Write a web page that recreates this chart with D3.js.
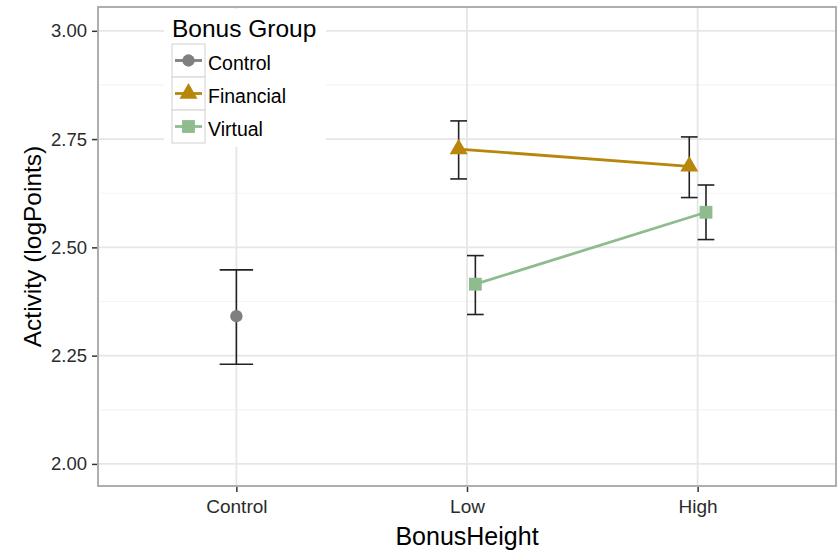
<!DOCTYPE html>
<html>
<head>
<meta charset="utf-8">
<script src="https://cdn.jsdelivr.net/npm/d3@7"></script>
<style>
  html, body { margin: 0; padding: 0; background: #fff; }
  svg { display: block; font-family: "Liberation Sans", Arial, sans-serif; }
</style>
</head>
<body>
<svg id="chart" width="840" height="551"></svg>
<script>
// Bonus height on the x axis, one series per bonus group
const categories = ["Control", "Low", "High"];
const groups = ["Control", "Financial", "Virtual"];
const groupColors = ["#7f7f7f", "#b8860b", "#8fbc8f"];

// Means and error-bar limits (log points)
const controlX    = ["Control"];
const controlMean = [2.341];
const controlLow  = [2.230];
const controlHigh = [2.448];

const financialX    = ["Low", "High"];
const financialMean = [2.727, 2.687];
const financialLow  = [2.658, 2.615];
const financialHigh = [2.792, 2.755];

const virtualX    = ["Low", "High"];
const virtualMean = [2.415, 2.581];
const virtualLow  = [2.345, 2.518];
const virtualHigh = [2.481, 2.644];

const yTicks = [2.00, 2.25, 2.50, 2.75, 3.00];
const yMinor = [2.125, 2.375, 2.625, 2.875];

const svg = d3.select("#chart");
const panel = { left: 98, right: 836, top: 7, bottom: 486 };

const x = d3.scalePoint().domain(categories)
  .range([panel.left, panel.right]).padding(0.6);
const y = d3.scaleLinear().domain([1.949, 3.055])
  .range([panel.bottom, panel.top]);

const step = x.step();
const dodgeWidth = 0.145;           // shared by the groups at one category

function build(name, xs, mean, lo, hi, nGroups, idx) {
  const off = nGroups > 1 ? (idx - (nGroups - 1) / 2) * dodgeWidth / nGroups : 0;
  return xs.map((c, i) => ({
    group: name, cat: c, mean: mean[i], lo: lo[i], hi: hi[i],
    cx: x(c) + off * step,
    capHalf: dodgeWidth / nGroups / 2 * step
  }));
}
const series = [
  build("Control", controlX, controlMean, controlLow, controlHigh, 1, 0),
  build("Financial", financialX, financialMean, financialLow, financialHigh, 2, 0),
  build("Virtual", virtualX, virtualMean, virtualLow, virtualHigh, 2, 1)
];
const color = d3.scaleOrdinal().domain(groups).range(groupColors);

// Panel background and grid
svg.append("rect").attr("x", panel.left).attr("y", panel.top)
  .attr("width", panel.right - panel.left).attr("height", panel.bottom - panel.top)
  .attr("fill", "#fff");

const grid = svg.append("g");
grid.selectAll("line.minor").data(yMinor).join("line")
  .attr("x1", panel.left).attr("x2", panel.right)
  .attr("y1", d => y(d)).attr("y2", d => y(d))
  .attr("stroke", "#f4f4f4").attr("stroke-width", 1.2);
grid.selectAll("line.major").data(yTicks).join("line")
  .attr("x1", panel.left).attr("x2", panel.right)
  .attr("y1", d => y(d)).attr("y2", d => y(d))
  .attr("stroke", "#e6e6e6").attr("stroke-width", 1.8);
grid.selectAll("line.vert").data(categories).join("line")
  .attr("x1", d => x(d)).attr("x2", d => x(d))
  .attr("y1", panel.top).attr("y2", panel.bottom)
  .attr("stroke", "#e6e6e6").attr("stroke-width", 1.8);

// Error bars
const eb = svg.append("g").attr("stroke", "#222").attr("stroke-width", 1.6).attr("fill", "none");
series.flat().forEach(d => {
  eb.append("line").attr("x1", d.cx).attr("x2", d.cx).attr("y1", y(d.lo)).attr("y2", y(d.hi));
  eb.append("line").attr("x1", d.cx - d.capHalf).attr("x2", d.cx + d.capHalf).attr("y1", y(d.lo)).attr("y2", y(d.lo));
  eb.append("line").attr("x1", d.cx - d.capHalf).attr("x2", d.cx + d.capHalf).attr("y1", y(d.hi)).attr("y2", y(d.hi));
});

// Lines connecting group means
const line = d3.line().x(d => d.cx).y(d => y(d.mean));
series.forEach(s => {
  if (s.length > 1) {
    svg.append("path").datum(s).attr("d", line)
      .attr("fill", "none").attr("stroke", color(s[0].group)).attr("stroke-width", 2.8);
  }
});

// Point symbols per group
const shapes = { Control: d3.symbolCircle, Financial: d3.symbolTriangle, Virtual: d3.symbolSquare };
const sizes = { Control: 120, Financial: 140, Virtual: 165 };
series.forEach(s => {
  svg.append("g").selectAll("path").data(s).join("path")
    .attr("transform", d => `translate(${d.cx},${y(d.mean)})`)
    .attr("d", d => d3.symbol().type(shapes[d.group]).size(sizes[d.group])())
    .attr("fill", d => color(d.group));
});

// Panel border
svg.append("rect").attr("x", panel.left).attr("y", panel.top)
  .attr("width", panel.right - panel.left).attr("height", panel.bottom - panel.top)
  .attr("fill", "none").attr("stroke", "#a6a6a6").attr("stroke-width", 1.8);

// Axes
const yAxis = svg.append("g").attr("transform", `translate(${panel.left - 1},0)`)
  .call(d3.axisLeft(y).tickValues(yTicks).tickFormat(d3.format(".2f")).tickSize(5).tickPadding(5));
const xAxis = svg.append("g").attr("transform", `translate(0,${panel.bottom + 1})`)
  .call(d3.axisBottom(x).tickSize(5).tickPadding(8));
[yAxis, xAxis].forEach(a => {
  a.select(".domain").remove();
  a.selectAll(".tick line").attr("stroke", "#333").attr("stroke-width", 1.5);
  a.selectAll(".tick text").attr("fill", "#2b2b2b").attr("font-family", "Liberation Sans, Arial, sans-serif");
});
yAxis.selectAll(".tick text").attr("font-size", 18.5);
xAxis.selectAll(".tick text").attr("font-size", 19);

// Axis titles
svg.append("text").attr("x", (panel.left + panel.right) / 2).attr("y", 545)
  .attr("text-anchor", "middle").attr("font-size", 25).attr("fill", "#000")
  .text("BonusHeight");
svg.append("text").attr("transform", `translate(41,${(panel.top + panel.bottom) / 2}) rotate(-90)`)
  .attr("text-anchor", "middle").attr("font-size", 24.5).attr("fill", "#000")
  .text("Activity (logPoints)");

// Legend
const lg = svg.append("g");
lg.append("rect").attr("x", 164).attr("y", 9).attr("width", 162).attr("height", 138).attr("fill", "#fff");
lg.append("text").attr("x", 172).attr("y", 37).attr("font-size", 24.5).attr("fill", "#000").text("Bonus Group");
const keyH = 33, keyTop = 44, keyX = 172, keyW = 33;
groups.forEach((g, i) => {
  const ky = keyTop + i * keyH;
  const row = lg.append("g");
  row.append("rect").attr("x", keyX).attr("y", ky).attr("width", keyW).attr("height", keyH)
    .attr("fill", "#fff").attr("stroke", "#d9d9d9").attr("stroke-width", 1.2);
  row.append("line").attr("x1", keyX + 3).attr("x2", keyX + keyW - 3)
    .attr("y1", ky + keyH / 2).attr("y2", ky + keyH / 2)
    .attr("stroke", color(g)).attr("stroke-width", 2.8);
  row.append("path").attr("transform", `translate(${keyX + keyW / 2},${ky + keyH / 2})`)
    .attr("d", d3.symbol().type(shapes[g]).size(sizes[g])())
    .attr("fill", color(g));
  row.append("text").attr("x", 208).attr("y", ky + keyH / 2 + 9)
    .attr("font-size", 19.5).attr("fill", "#000").text(g);
});
</script>
</body>
</html>
